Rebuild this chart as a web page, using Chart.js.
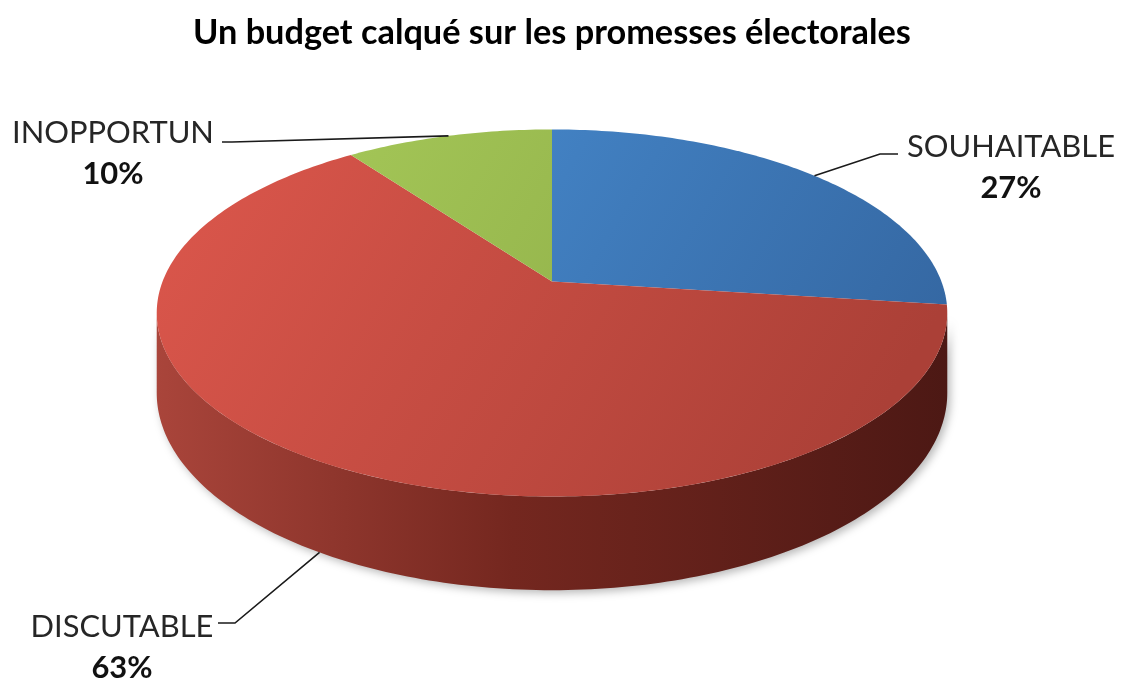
<!DOCTYPE html>
<html>
<head>
<meta charset="utf-8">
<script src="https://cdn.jsdelivr.net/npm/chart.js@4.4.0/dist/chart.umd.min.js"></script>
<style>
  html, body { margin: 0; padding: 0; background: #fff; }
  #wrap { width: 1123px; height: 681px; position: relative; }
</style>
</head>
<body>
<div id="wrap"><canvas id="pie"></canvas></div>
<script>
const chartTitle = 'Un budget calqué sur les promesses électorales';
const categories = ['SOUHAITABLE', 'DISCUTABLE', 'INOPPORTUN'];
const shares = [27, 63, 10];

// top face colours [light, dark] and side wall colours [light, dark]
const topColors = [['#4b92d8', '#3568a3'], ['#da564b', '#ab4037'], ['#a8cb5a', '#88a643']];
const wallColors = [['#3b6ca6', '#1e3b60'], ['#aa453b', '#4c1814'], ['#8aa843', '#4b5f22']];

// where each label sits (text centre x, baseline of name) and where its leader line ends
const labelSpots = [
  { x: 1011, y: 157, lineEnd: [898, 154], elbow: [880, 154] },
  { x: 122, y: 637, lineEnd: [218, 623], elbow: [235, 623] },
  { x: 113, y: 143, lineEnd: [222, 142], elbow: [232, 142] }
];

// perspective look of the disc
const stretchX = 1.705, stretchY = 0.78, persp = 0.171, depthRatio = 0.34;

const FONT = 'Lato, "Open Sans", sans-serif';

function fitSize(text, weight, width) {
  const c = document.createElement('canvas').getContext('2d');
  c.font = weight + ' 100px ' + FONT;
  return 100 * width / c.measureText(text).width;
}
const titleSize = fitSize(chartTitle, 'bold', 718);
const labelSize = fitSize('SOUHAITABLE', 'normal', 208);

function project(arc, theta, drop) {
  const u = Math.cos(theta), v = Math.sin(theta);
  const w = 1 - persp * v;
  const r = arc.outerRadius;
  return {
    x: arc.x + r * stretchX * u / w,
    y: arc.y + (r * stretchY * v + drop) / w
  };
}

function rimPath(ctx, arc, a0, a1, drop, first) {
  const steps = Math.max(8, Math.ceil(Math.abs(a1 - a0) * 60));
  for (let i = 0; i <= steps; i++) {
    const p = project(arc, a0 + (a1 - a0) * i / steps, drop);
    if (i === 0 && first) ctx.moveTo(p.x, p.y); else ctx.lineTo(p.x, p.y);
  }
}

const pie3d = {
  id: 'pie3d',
  beforeDatasetsDraw(chart) {
    const ctx = chart.ctx;
    const arcs = chart.getDatasetMeta(0).data;
    const ref = arcs[0];
    const depth = ref.outerRadius * depthRatio;
    const tA = Math.asin(persp), tB = Math.PI - tA;
    const left = project(ref, Math.PI, 0).x - 10, right = project(ref, 0, 0).x + 10;

    // side walls of the front half
    ctx.save();
    ctx.shadowColor = 'rgba(0,0,0,0.28)';
    ctx.shadowBlur = 8;
    ctx.shadowOffsetX = 3;
    ctx.shadowOffsetY = 3;
    arcs.forEach((arc, i) => {
      [-2 * Math.PI, 0, 2 * Math.PI].forEach(off => {
        const s = Math.max(arc.startAngle + off, tA);
        const e = Math.min(arc.endAngle + off, tB);
        if (e <= s) return;
        const g = ctx.createLinearGradient(left, 0, right, 0);
        g.addColorStop(0, wallColors[i][0]);
        if (i === 1) g.addColorStop(0.45, '#74271f');
        g.addColorStop(1, wallColors[i][1]);
        ctx.beginPath();
        rimPath(ctx, arc, s, e, 0, true);
        rimPath(ctx, arc, e, s, depth, false);
        ctx.closePath();
        ctx.fillStyle = g;
        ctx.fill();
      });
    });
    ctx.restore();

    // top faces
    const top = project(ref, -Math.PI / 2, 0).y;
    const bottom = project(ref, Math.PI / 2, 0).y;
    arcs.forEach((arc, i) => {
      const g = ctx.createLinearGradient(left + 60, top, right - 120, bottom);
      g.addColorStop(0, topColors[i][0]);
      g.addColorStop(1, topColors[i][1]);
      ctx.beginPath();
      ctx.moveTo(arc.x, arc.y);
      rimPath(ctx, arc, arc.startAngle, arc.endAngle, 0, false);
      ctx.closePath();
      ctx.fillStyle = g;
      ctx.fill();
    });
    return false;
  },
  afterDraw(chart) {
    const ctx = chart.ctx;
    const arcs = chart.getDatasetMeta(0).data;
    const depth = arcs[0].outerRadius * depthRatio;
    const total = shares.reduce((a, b) => a + b, 0);
    ctx.save();
    arcs.forEach((arc, i) => {
      const mid = (arc.startAngle + arc.endAngle) / 2;
      const m = ((mid % (2 * Math.PI)) + 2 * Math.PI) % (2 * Math.PI);
      const front = m > Math.asin(persp) && m < Math.PI - Math.asin(persp);
      const anchor = project(arc, mid, front ? depth : 0);
      const spot = labelSpots[i];
      ctx.beginPath();
      ctx.moveTo(anchor.x, anchor.y);
      ctx.lineTo(spot.elbow[0], spot.elbow[1]);
      ctx.lineTo(spot.lineEnd[0], spot.lineEnd[1]);
      ctx.strokeStyle = '#1a1a1a';
      ctx.lineWidth = 1.6;
      ctx.stroke();

      ctx.fillStyle = '#262626';
      ctx.textAlign = 'center';
      ctx.textBaseline = 'alphabetic';
      ctx.font = 'normal ' + labelSize + 'px ' + FONT;
      ctx.fillText(categories[i], spot.x, spot.y);
      ctx.fillStyle = '#111';
      ctx.font = 'bold ' + labelSize + 'px ' + FONT;
      ctx.fillText(Math.round(shares[i] / total * 100) + '%', spot.x, spot.y + 41);
    });
    ctx.restore();
  }
};

new Chart(document.getElementById('pie'), {
  type: 'pie',
  data: {
    labels: categories,
    datasets: [{ data: shares, borderWidth: 0, backgroundColor: topColors.map(c => c[0]) }]
  },
  options: {
    responsive: true,
    maintainAspectRatio: false,
    animation: false,
    events: [],
    layout: { padding: { left: 0, right: 19, top: 0, bottom: 171 } },
    plugins: {
      legend: { display: false },
      tooltip: { enabled: false },
      title: {
        display: true,
        text: chartTitle,
        color: '#000',
        font: { family: FONT, size: titleSize, weight: 'bold', lineHeight: 1.2 },
        padding: { top: 12, bottom: 0 }
      }
    }
  },
  plugins: [pie3d]
});
</script>
</body>
</html>
